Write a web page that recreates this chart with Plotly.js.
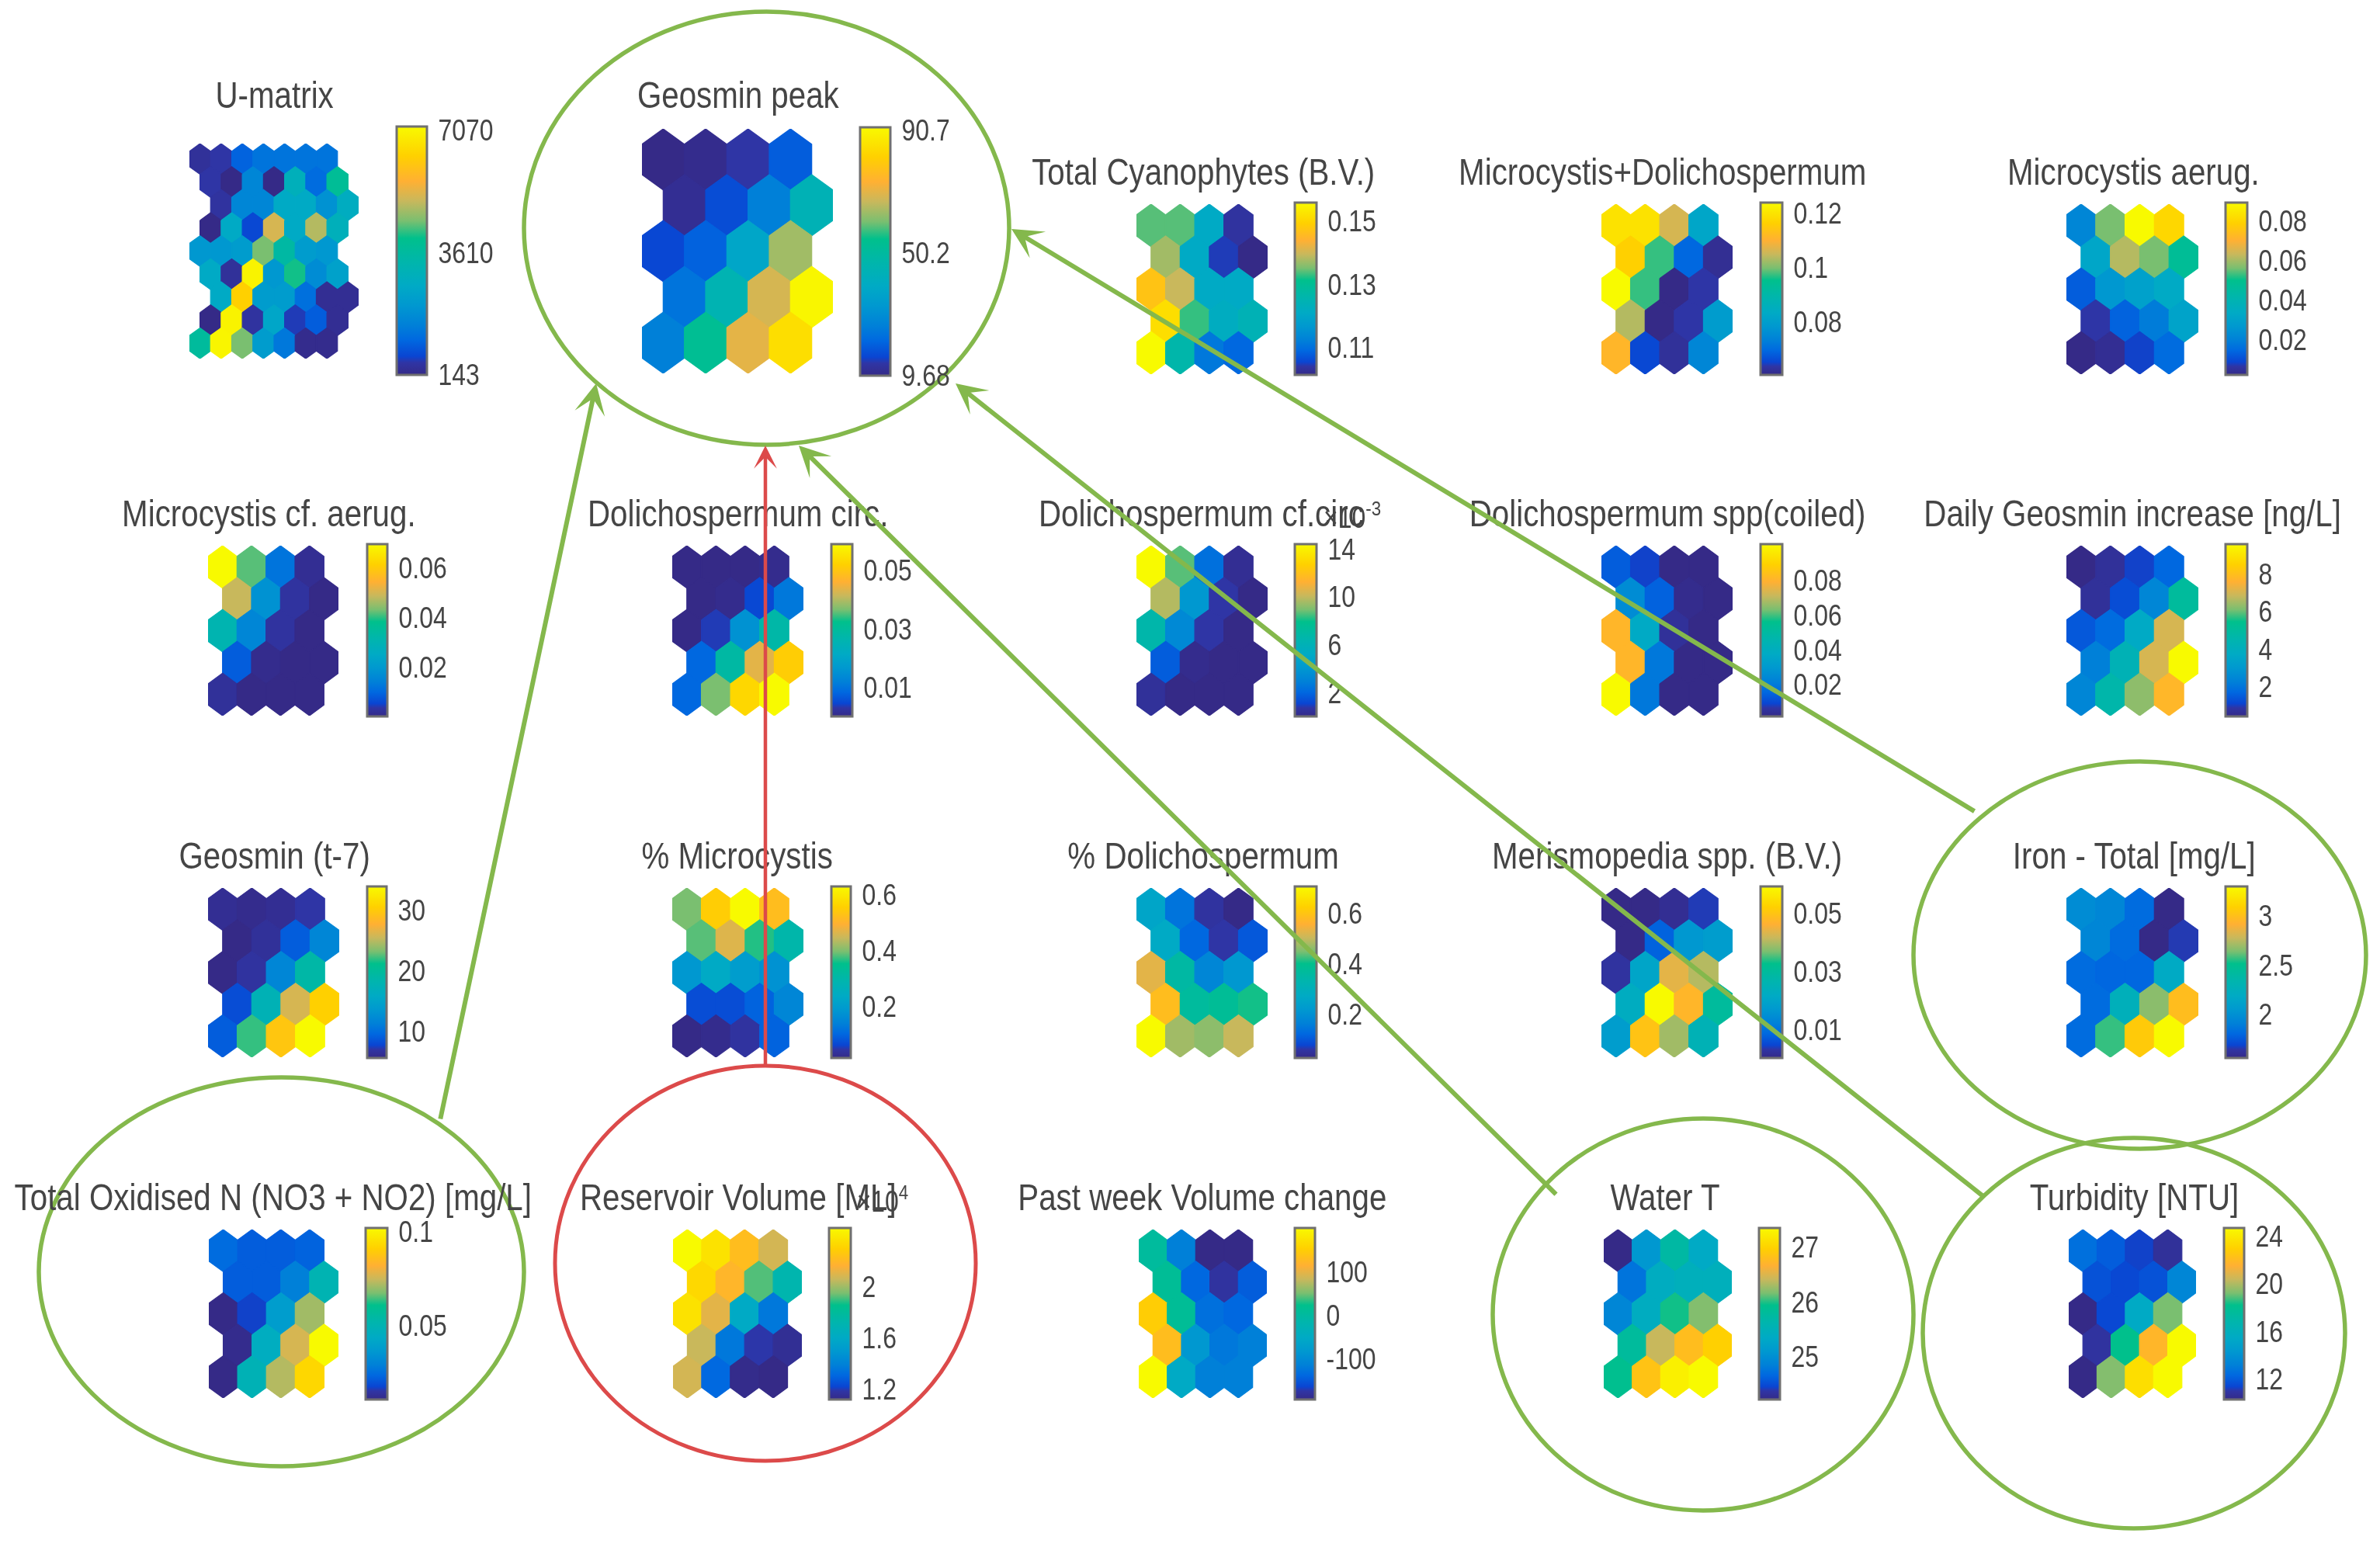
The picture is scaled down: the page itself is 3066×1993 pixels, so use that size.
<!DOCTYPE html>
<html>
<head>
<meta charset="utf-8">
<script src="https://cdn.plot.ly/plotly-3.0.1.min.js"></script>
<style>html,body{margin:0;padding:0;background:#fff}#chart{width:3066px;height:1993px;filter:blur(.7px)}</style>
</head>
<body>
<div id="chart"></div>
<script>
// ---------- values (rows top to bottom) ----------
const uMatrix = [
 [354,495,1058,1339,1339,1339,1339],
 [495,143,1691,143,2958,1199,3802],
 [424,1691,1691,2676,2676,1973,2817],
 [143,2676,706,5210,2676,4928,2958],
 [2113,2113,2254,4506,3521,2254,2113],
 [2676,354,7039,2113,4084,1832,2395],
 [2676,6336,2254,2254,1269,284,284],
 [143,7039,424,2536,565,987,284],
 [3662,7070,4506,2254,1410,213,213]];
const geosminPeak = [[9.7,10.5,13.8,19.5],[11.3,17.1,26.1,44.1],[16.2,20.3,37.6,63.8],[23.6,45,68.7,90.7],[26.1,53.1,70.4,85.1]];
const totalCyanophytes = [[.1341,.1341,.121,.1036],[.1374,.121,.1047,.1014],[.1472,.1396,.121,.121],[.1515,.133,.1221,.1243],[.1559,.1265,.1112,.109]];
const microDolicho = [[.1196,.1196,.1062,.0822],[.1164,.0974,.0695,.0619],[.124,.0974,.0606,.0638],[.1037,.0606,.0638,.0796],[.1113,.0657,.0625,.0745]];
const microAerug = [[.0215,.0563,.0894,.0807],[.032,.0616,.0563,.0476],[.0128,.0268,.0302,.0337],[.0068,.0137,.0189,.0311],[.0024,.0041,.0085,.0155]];
const microCfAerug = [[.0698,.0419,.0119,.0014],[.0489,.0181,.0028,0],[.0307,.0154,.0028,0],[.0084,.0007,0,0],[.0021,0,0,0]];
const dolichoCirc = [[.0002,.0002,.0002,.0008],[.0002,.0008,.0049,.0108],[.0002,.0037,.0155,.0278],[.0084,.0284,.0437,.0514],[.0084,.0367,.0531,.059]];
const dolichoCfCirc = [[14.4,8.67,2.36,.35],[9.81,4.08,.78,.065],[6.66,3.36,.78,.065],[1.79,.21,.065,.065],[.49,.065,.065,.065]];
const dolichoSpp = [[.0135,.0086,.0016,.0016],[.0255,.0145,.0026,.0016],[.0811,.0374,.0046,.0016],[.0811,.0195,.0016,.0016],[.101,.0195,.0016,.0016]];
const dailyGeosmin = [[.43,.71,1.07,1.71],[.71,1.26,2.45,5.02],[1.44,1.81,3.73,7.03],[2.26,4.28,7.03,9.6],[2.45,4.65,6.3,7.77]];
const geosminT7 = [[6.17,5.88,6.17,7.02],[5.6,6.45,9.01,11.85],[5.6,6.74,11.85,18.95],[8.16,17.53,26.05,30.59],[9.01,22.07,29.74,34]];
const pctMicrocystis = [[.397,.55,.63,.52],[.385,.465,.366,.299],[.189,.238,.201,.176],[.072,.072,.097,.152],[.017,.023,.042,.097]];
const pctDolicho = [[.259,.144,.055,.028],[.273,.123,.062,.103],[.531,.354,.178,.218],[.586,.368,.382,.409],[.708,.477,.463,.504]];
const merismopedia = [[.0004,.0004,.0016,.0039],[.0004,.0081,.0169,.0181],[.0028,.0204,.044,.0405],[.0228,.0593,.0475,.0299],[.0181,.0499,.0393,.0251]];
const ironTotal = [[1.98,1.94,1.82,1.56],[1.94,1.82,1.56,1.66],[1.82,1.8,1.8,2.19],[1.82,2.26,2.67,2.99],[1.82,2.57,3.06,3.3]];
const totalOxN = [[.0245,.0217,.0217,.0227],[.0217,.0217,.029,.05],[.0108,.0172,.0382,.071],[.0117,.0455,.0765,.102],[.0108,.0491,.0728,.0929]];
const reservoirVol = [[2.46,2.37,2.22,2.08],[2.33,2.19,1.92,1.72],[2.37,2.11,1.6,1.36],[2.06,1.36,1.19,1.15],[2.08,1.31,1.13,1.12]];
const pastWeekVol = [[4.5,-114,-193,-193],[12,-138,-177,-146],[151,12,-130,-138],[131,-82,-122,-114],[202,-51,-114,-114]];
const waterT = [[24.22,25.1,25.72,25.35],[24.75,25.41,25.47,25.47],[24.91,25.41,25.97,26.19],[25.79,26.41,26.79,26.97],[25.91,26.85,27.26,27.35]];
const turbidity = [[12.6,12.03,11.31,10.73],[11.74,11.45,11.74,13.47],[10.3,11.45,15.48,19.23],[10.88,18.22,21.82,24.7],[10.3,19.37,23.55,24.7]];

// ---------- panel table ----------
const titles = ["U-matrix","Geosmin peak","Total Cyanophytes (B.V.)","Microcystis+Dolichospermum","Microcystis aerug.",
 "Microcystis cf. aerug.","Dolichospermum circ.","Dolichospermum cf.circ","Dolichospermum spp(coiled)","Daily Geosmin increase [ng/L]",
 "Geosmin (t-7)","% Microcystis","% Dolichospermum","Merismopedia spp. (B.V.)","Iron - Total [mg/L]",
 "Total Oxidised N (NO3 + NO2) [mg/L]","Reservoir Volume [ML]","Past week Volume change","Water T","Turbidity [NTU]"];
const series = [uMatrix,geosminPeak,totalCyanophytes,microDolicho,microAerug,
 microCfAerug,dolichoCirc,dolichoCfCirc,dolichoSpp,dailyGeosmin,
 geosminT7,pctMicrocystis,pctDolicho,merismopedia,ironTotal,
 totalOxN,reservoirVol,pastWeekVol,waterT,turbidity];
const colorRanges = [[143,7180],[9.68,91.7],[.1014,.1559],[.0606,.124],[.0024,.0894],
 [0,.0698],[.0002,.059],[.065,14.4],[.0016,.101],[.43,9.6],
 [5.6,34],[.017,.63],[.028,.708],[.0004,.0593],[1.56,3.3],
 [.0108,.102],[1.12,2.46],[-193,202],[24.22,27.35],[10.3,24.7]];
const tickLabels = [["143","3610","7070"],["9.68","50.2","90.7"],["0.11","0.13","0.15"],["0.08","0.1","0.12"],["0.02","0.04","0.06","0.08"],
 ["0.02","0.04","0.06"],["0.01","0.03","0.05"],["2","6","10","14"],["0.02","0.04","0.06","0.08"],["2","4","6","8"],
 ["10","20","30"],["0.2","0.4","0.6"],["0.2","0.4","0.6"],["0.01","0.03","0.05"],["2","2.5","3"],
 ["0.05","0.1"],["1.2","1.6","2"],["-100","0","100"],["25","26","27"],["12","16","20","24"]];

// ---------- page geometry, pixels ----------
const W = 3066, H = 1993;
const mapBoxes = [[244,462,185,462],[827,1073,166,481],[1464,1633,263,482],[2063,2232,263,482],[2662,2832,263,482],
 [268,436,703,922],[866,1035,703,922],[1464,1633,703,922],[2063,2232,703,922],[2662,2832,703,922],
 [268,437,1144,1362],[866,1035,1144,1362],[1464,1633,1144,1362],[2063,2232,1144,1362],[2662,2832,1144,1362],
 [269,436,1584,1801],[867,1033,1584,1801],[1467,1632,1584,1801],[2066,2231,1584,1801],[2665,2829,1584,1801]];
const barBoxes = [[511,550,163,483],[1108,1147,164,484],[1668,1696,261,483],[2268,2296,261,483],[2867,2895,261,483],
 [473,499,701,923],[1071,1098,701,923],[1668,1696,701,923],[2268,2296,701,923],[2867,2895,701,923],
 [473,498,1142,1363],[1071,1096,1142,1363],[1668,1696,1142,1363],[2268,2296,1142,1363],[2867,2895,1142,1363],
 [471,499,1582,1803],[1068,1096,1582,1803],[1668,1694,1582,1803],[2266,2293,1582,1803],[2865,2891,1582,1803]];
const titleSpots = [[353,122],[951,122],[1550,221],[2141,221],[2748,221],
 [346,661],[950,661],[1547,661],[2148,661],[2747,661],
 [353,1102],[949,1102],[1550,1102],[2147,1102],[2749,1102],
 [352,1542],[951,1542],[1549,1542],[2145,1542],[2749,1542]];
const rings = [[675,1300,15,573,"#84b84c",5.5],[2465,3048,981,1480,"#84b84c",5.5],[2477,3021,1466,1969,"#84b84c",5.5],
 [1923,2465,1441,1946,"#84b84c",5.5],[50,675,1388,1889,"#84b84c",5.5],[715,1257,1373,1882,"#dc4a4a",5]];
const arrows = [[768,494,567,1443,"#84b84c",6],[986,574,986,1373,"#dc4a4a",4.5],[1029,574,2006,1540,"#84b84c",6],
 [1231,494,2556,1542,"#84b84c",6],[1303,295,2545,1046,"#84b84c",6]];
const multipliers = [[1781,664,"×10<sup>-3</sup>"],[1172,1545,"×10<sup>4</sup>"]];

// ---------- colour ----------
const parulaStops = [[0,"#352a87"],[.05,"#2f35a5"],[.075,"#0a45d2"],[.14,"#0068e0"],[.2,"#0080d8"],[.28,"#0098d0"],[.36,"#00aac5"],
 [.45,"#00b5ad"],[.55,"#00c08c"],[.62,"#7abf70"],[.7,"#c8b85c"],[.78,"#ffb033"],[.88,"#ffd000"],[1,"#f8fa00"]];
const rgb = h => [1,3,5].map(i => parseInt(h.substr(i,2),16));
function colorAt(t){
  t = Math.max(0,Math.min(1,t));
  for(let i=1;i<parulaStops.length;i++){
    if(t<=parulaStops[i][0]){
      const [a,ca]=parulaStops[i-1],[b,cb]=parulaStops[i],f=(t-a)/(b-a),A=rgb(ca),B=rgb(cb);
      return "rgb("+A.map((v,k)=>Math.round(v+(B[k]-v)*f)).join(",")+")";
    }
  }
  return parulaStops[parulaStops.length-1][1];
}

const TEXT = "#454545", FONT = "'Liberation Sans',Arial,sans-serif";
const traces = [], annotations = [], shapes = [];
const layout = {width:W,height:H,paper_bgcolor:"#fff",plot_bgcolor:"rgba(0,0,0,0)",showlegend:false,hovermode:false,
  margin:{l:0,r:0,t:0,b:0,pad:0,autoexpand:false}};

series.forEach((rows,p)=>{
  const id = p+1, xa = "xaxis"+id, ya = "yaxis"+id, xr = "x"+id, yr = "y"+id;
  const [x0,x1,y0,y1] = mapBoxes[p];
  const wide = rows.length>5;
  const offs = wide ? [0,.5,1,.5,0,.5,1,.5,0] : [0,.5,0,.5,0];
  const nCols = rows[0].length;
  const [lo,hi] = colorRanges[p];
  layout[xa] = {domain:[x0/W,x1/W],range:[-.5,nCols-.5+(wide?1:.5)],visible:false,fixedrange:true,anchor:yr};
  layout[ya] = {domain:[1-y1/H,1-y0/H],range:[rows.length-1+2/3,-2/3],visible:false,fixedrange:true,anchor:xr};
  // centres carry the native colour bar; they sit under the cells
  const cx=[],cy=[],cv=[];
  rows.forEach((r,i)=>r.forEach((v,j)=>{cx.push(j+offs[i]);cy.push(i);cv.push(v);}));
  const labels = tickLabels[p];
  const [bx0,bx1,by0,by1] = barBoxes[p];
  traces.push({type:"scatter",mode:"markers",x:cx,y:cy,xaxis:xr,yaxis:yr,hoverinfo:"skip",
    marker:{size:1,color:cv,cmin:lo,cmax:hi,showscale:true,
      colorscale:parulaStops,
      colorbar:{x:bx0/W,xanchor:"left",y:1-by0/H,yanchor:"top",xref:"paper",yref:"paper",
        len:by1-by0,lenmode:"pixels",thickness:bx1-bx0,thicknessmode:"pixels",xpad:0,ypad:0,
        outlinecolor:"#707070",outlinewidth:3,borderwidth:0,
        tickmode:"array",tickvals:labels.map(Number),ticktext:labels,
        ticks:"outside",ticklen:6,tickcolor:"rgba(0,0,0,0)",
        tickfont:{family:FONT,size:38,color:TEXT}}}});
  rows.forEach((r,i)=>r.forEach((v,j)=>{
    const c = j+offs[i];
    traces.push({type:"scatter",mode:"lines",fill:"toself",hoverinfo:"skip",xaxis:xr,yaxis:yr,
      x:[c-.5,c,c+.5,c+.5,c,c-.5,c-.5],
      y:[i-1/3,i-2/3,i-1/3,i+1/3,i+2/3,i+1/3,i-1/3],
      fillcolor:colorAt((v-lo)/(hi-lo)),line:{color:colorAt((v-lo)/(hi-lo)),width:1.2}});
  }));
  annotations.push({xref:"x99",yref:"y99",x:titleSpots[p][0],y:titleSpots[p][1],text:titles[p],showarrow:false,
    xanchor:"center",yanchor:"middle",font:{family:FONT,size:48,color:TEXT}});
});

// overlay axes running in page pixels, for rings, arrows and free text
layout.xaxis99 = {domain:[0,1],range:[0,W],visible:false,fixedrange:true,anchor:"y99"};
layout.yaxis99 = {domain:[0,1],range:[H,0],visible:false,fixedrange:true,anchor:"x99"};
multipliers.forEach(m=>annotations.push({xref:"x99",yref:"y99",x:m[0],y:m[1],text:m[2],showarrow:false,
  xanchor:"right",yanchor:"middle",font:{family:FONT,size:38,color:TEXT}}));
rings.forEach(r=>shapes.push({type:"circle",xref:"x99",yref:"y99",x0:r[0],x1:r[1],y0:r[2],y1:r[3],
  line:{color:r[4],width:r[5]},fillcolor:"rgba(0,0,0,0)",layer:"above"}));
arrows.forEach(a=>annotations.push({xref:"x99",yref:"y99",axref:"x99",ayref:"y99",x:a[0],y:a[1],ax:a[2],ay:a[3],text:"",
  showarrow:true,arrowhead:3,arrowsize:1.1,arrowwidth:a[5],arrowcolor:a[4],standoff:0,startstandoff:0}));
layout.annotations = annotations;
layout.shapes = shapes;

// the reference's lettering is tall and condensed; squeeze the drawn text horizontally
const SQUEEZE = 0.84;
Plotly.newPlot("chart",traces,layout,{staticPlot:true,displayModeBar:false,responsive:false}).then(()=>{
  document.querySelectorAll("#chart svg text").forEach(t=>{
    if(!t.textContent.trim()){ t.remove(); return; }
    const b = t.getBBox();
    const isTitle = t.classList.contains("annotation-text");
    const isMult = t.textContent.indexOf("×10")===0;
    const ax = !isTitle ? b.x : (isMult ? b.x+b.width : b.x+b.width/2);
    const old = t.getAttribute("transform")||"";
    t.setAttribute("transform",old+" translate("+ax+",0) scale("+SQUEEZE+",1) translate("+(-ax)+",0)");
  });
});
</script>
</body>
</html>
